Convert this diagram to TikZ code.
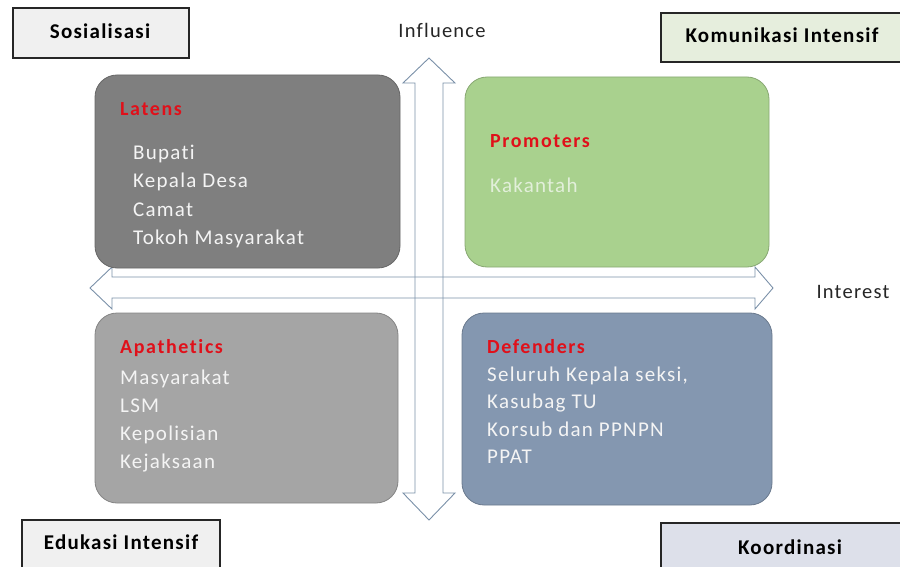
\documentclass[tikz,border=0pt]{standalone}
\usepackage{fontspec}
\setmainfont{Carlito}
\newfontfamily\widefont[LetterSpace=6,Ligatures=NoCommon]{Carlito}
\newfontfamily\widerfont[LetterSpace=8,Ligatures=NoCommon]{Carlito}
\definecolor{arrowc}{HTML}{7A90A8}
\definecolor{latensc}{HTML}{7F7F7F}
\definecolor{promc}{HTML}{A9D18E}
\definecolor{apac}{HTML}{A5A5A5}
\definecolor{defc}{HTML}{8497B0}
\definecolor{titlered}{HTML}{E0101A}
\definecolor{itemc}{HTML}{F4F4F4}
\definecolor{paleg}{HTML}{E2EFDA}
\definecolor{sosc}{HTML}{F0F0F0}
\definecolor{komc}{HTML}{E6EEDD}
\definecolor{koorc}{HTML}{DDE0EA}
\tikzset{
  qbox/.style={rounded corners=22pt, draw=#1!80!black, line width=0.8pt, inner sep=0pt},
  labelbox/.style={draw=black!85, line width=1.1pt, inner sep=0pt},
  qtitle/.style={anchor=base west, inner sep=0pt, text=titlered, font=\widerfont\fontsize{20}{20}\selectfont\bfseries},
  qitem/.style={anchor=base west, inner sep=0pt, text=itemc, font=\widefont\fontsize{21}{21}\selectfont},
  boxtext/.style={inner sep=0pt, font=\widefont\fontsize{21}{21}\selectfont\bfseries},
  axistext/.style={inner sep=0pt, text=black!85, font=\widefont\fontsize{20.5}{20.5}\selectfont},
  arrowshape/.style={draw=arrowc, line width=0.9pt}
}
\begin{document}
\begin{tikzpicture}[x=1pt,y=-1pt]
\useasboundingbox (0,0) rectangle (900,567);
% arrows
\draw[arrowshape] (429,58) -- (455,83) -- (443,83) -- (443,493) -- (455,493) -- (429,520) -- (403,493) -- (415,493) -- (415,83) -- (403,83) -- cycle;
\draw[arrowshape] (90,288) -- (112,267) -- (112,277) -- (755,277) -- (755,267) -- (773,288) -- (755,309) -- (755,298) -- (112,298) -- (112,309) -- cycle;
% quadrant boxes
\node[qbox=latensc, fill=latensc, minimum width=305pt, minimum height=193pt] (latens) at (247.5,171.5) {};
\node[qbox=promc, fill=promc, minimum width=304pt, minimum height=190pt] (prom) at (617,172) {};
\node[qbox=apac, fill=apac, minimum width=303pt, minimum height=190pt] (apa) at (246.5,408) {};
\node[qbox=defc, fill=defc, minimum width=310pt, minimum height=192pt] (def) at (617,409) {};
% texts
\node[qtitle] (t1) at (120,116) {Latens};
\node[qitem] (l1) at (133,160) {Bupati};
\node[qitem] (l2) at (133,188) {Kepala Desa};
\node[qitem] (l3) at (133,216) {Camat};
\node[qitem] (l4) at (133,244) {Tokoh Masyarakat};
\node[qtitle] (t2) at (490,148) {Promoters};
\node[qitem, text=paleg] (p1) at (490,193) {Kakantah};
\node[qtitle] (t3) at (120,353) {Apathetics};
\node[qitem] (a1) at (120,384) {Masyarakat};
\node[qitem] (a2) at (120,412) {LSM};
\node[qitem] (a3) at (120,440) {Kepolisian};
\node[qitem] (a4) at (120,468) {Kejaksaan};
\node[qtitle] (t4) at (487,353) {Defenders};
\node[qitem] (d1) at (487,381) {Seluruh Kepala seksi,};
\node[qitem] (d2) at (487,408) {Kasubag TU};
\node[qitem] (d3) at (487,436) {Korsub dan PPNPN};
\node[qitem] (d4) at (487,463) {PPAT};
% axis labels
\node[axistext] (infl) at (442,30) {Influence};
\node[axistext] (intr) at (853,292) {Interest};
% corner label boxes
\node[labelbox, fill=sosc, minimum width=176pt, minimum height=50pt] (sos) at (101,33) {};
\node[boxtext] at (100,31) {Sosialisasi};
\node[labelbox, fill=komc, minimum width=244pt, minimum height=49pt] (kom) at (783,37.5) {};
\node[boxtext] at (782,35) {Komunikasi Intensif};
\node[labelbox, fill=sosc, minimum width=198pt, minimum height=52pt] (edu) at (121,546) {};
\node[boxtext] at (121,542) {Edukasi Intensif};
\node[labelbox, fill=koorc, minimum width=244pt, minimum height=50pt] (koor) at (783,548) {};
\node[boxtext] at (790,547) {Koordinasi};
\end{tikzpicture}
\end{document}
